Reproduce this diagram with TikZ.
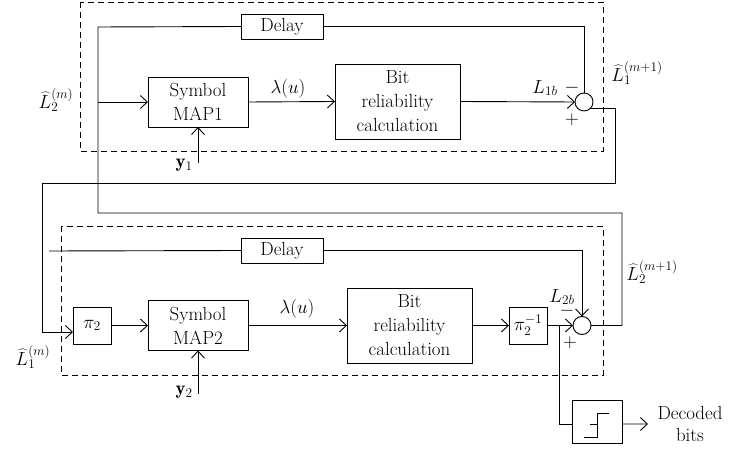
\RequirePackage{fix-cm}
\documentclass[tikz,border=0pt]{standalone}
\usepackage{fontspec}
\usetikzlibrary{arrows.meta,calc}
\begin{document}
\begin{tikzpicture}[x=1bp,y=-1bp,
  line width=0.9bp,
  font=\fontsize{19}{24}\selectfont,
  every node/.style={inner sep=0pt,outer sep=0pt},
  blk/.style={draw,rectangle,align=center},
  summer/.style={draw,circle,minimum size=18bp},
  frame/.style={draw,dash pattern=on 6bp off 4bp},
  arr/.style={-{Straight Barb[length=7bp,width=13bp,line width=0.9bp]}}
]
\useasboundingbox (0,0) rectangle (730,452);

% ---------- decoder 1 ----------
\draw[frame] (80,2) rectangle (603,151);
\node[blk,minimum width=82bp,minimum height=25bp] (delay1) at (282,26.5) {Delay};
\node[blk,minimum width=100bp,minimum height=50bp] (map1) at (198,102) {Symbol\\MAP1};
\node[blk,minimum width=125bp,minimum height=75bp] (bit1) at (397.5,101.5) {Bit\\reliability\\calculation};
\node[summer] (sum1) at (584,102) {};

% ---------- decoder 2 ----------
\draw[frame] (61,226) rectangle (603,375);
\node[blk,minimum width=82bp,minimum height=25bp] (delay2) at (282,250.5) {Delay};
\node[blk,minimum width=38bp,minimum height=37bp] (pi2) at (92,325.5) {$\pi_2$};
\node[blk,minimum width=100bp,minimum height=50bp] (map2) at (198,325.5) {Symbol\\MAP2};
\node[blk,minimum width=125bp,minimum height=75bp] (bit2) at (409.5,325.5) {Bit\\reliability\\calculation};
\node[blk,minimum width=38bp,minimum height=37bp] (pinv) at (528,325.5) {$\pi_2^{-1}$};
\node[summer] (sum2) at (582,325.5) {};

% hard decision
\node[blk,minimum width=50bp,minimum height=43bp] (thr) at (597,421.5) {};
\draw[line width=0.8bp] (584,437) -- (597,437) -- (597,413) -- (609,413)
      (590,424) -- (597,424);

% ---------- coordinates ----------
\coordinate (fb1) at (98,27);
\coordinate (fb2) at (98,213);
\coordinate (fb3) at (622,213);
\coordinate (in1) at (98,102);
\coordinate (r1) at (615,183);
\coordinate (l1) at (42,183);
\coordinate (ys1) at (198,163);
\coordinate (ys2) at (198,394);
\coordinate (d2in) at (49,251);
\coordinate (br) at (559,325.5);
\coordinate (dec) at (648,424);

% ---------- decoder 1 wiring ----------
\draw (sum2.east) -| (fb3) -- (fb2) -- (fb1) -- (delay1.west);
\draw (delay1.east) -| (sum1.north);
\draw[arr] (in1) -- (map1.west);
\draw[arr] (map1.east) -- (bit1.west);
\draw[arr] (bit1.east) -- (sum1.west);
\draw[arr] (ys1) -- (map1.south);
\draw[arr] (sum1.-50) -| (r1) -- (l1) |- ([yshift=-6.5bp]pi2.west);

% ---------- decoder 2 wiring ----------
\draw (d2in) -- (delay2.west);
\draw[arr] (delay2.east) -| (sum2.north);
\draw[arr] (pi2.east) -- (map2.west);
\draw[arr] (map2.east) -- (bit2.west);
\draw[arr] (bit2.east) -- (pinv.west);
\draw[arr] (pinv.east) -- (sum2.west);
\draw[arr] (ys2) -- (map2.south);
\draw (br) |- ([yshift=-2.5bp]thr.west);
\draw[arr] ([yshift=-2.5bp]thr.east) -- (dec);

% ---------- labels ----------
\node (lam1) at (288,89) {$\lambda(u)$};
\node (lam2) at (297,309) {$\lambda(u)$};
\node (l1b) at (545,88) {$L_{1b}$};
\node (l2b) at (562,297) {$L_{2b}$};
\node (m1) at (572,88) {$-$};
\node (p1) at (572,120) {$+$};
\node (m2) at (567,311) {$-$};
\node (p2) at (570,343) {$+$};
\node (y1) at (184,165) {$\mathbf{y}_1$};
\node (y2) at (184,392) {$\mathbf{y}_2$};
\node (lh2m) at (56,100) {$\widehat{L}_2^{(m)}$};
\node (lh1m) at (33,357) {$\widehat{L}_1^{(m)}$};
\node (lh1n) at (637,73) {$\widehat{L}_1^{(m+1)}$};
\node (lh2n) at (652,272) {$\widehat{L}_2^{(m+1)}$};
\node[align=center,font=\fontsize{19}{22}\selectfont] (decb) at (690,424) {Decoded\\bits};
\end{tikzpicture}
\end{document}
